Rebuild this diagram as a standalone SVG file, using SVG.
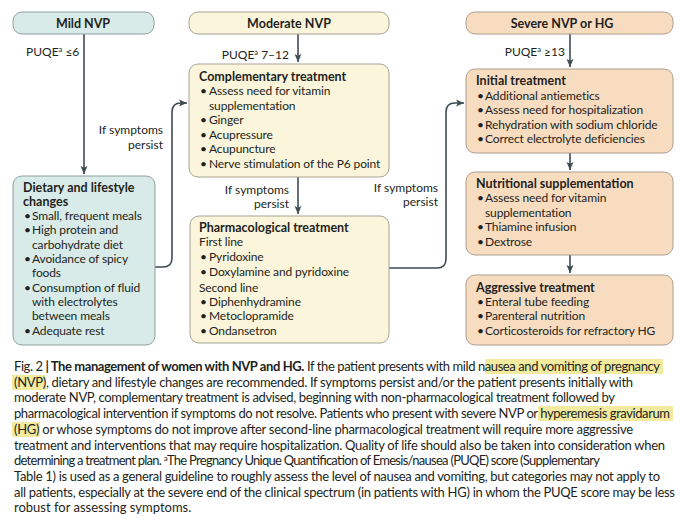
<svg xmlns="http://www.w3.org/2000/svg" width="680" height="521" viewBox="0 0 680 521">
<style>
text{font-family:Lato,"Liberation Sans",sans-serif;fill:#231f20}
.n{font-size:12px;letter-spacing:-0.12px}
.b{font-weight:bold;font-size:12.5px;letter-spacing:0}
.h{font-size:12.5px;font-weight:bold;text-anchor:middle}
.l{font-size:12px}
.e{text-anchor:end}
.c{font-size:13px}
.mild{fill:#d8ebe9;stroke:#8e9e9e;stroke-width:1}
.mod{fill:#fbf5dc;stroke:#a6a394;stroke-width:1}
.sev{fill:#f7dcc0;stroke:#ad9e8e;stroke-width:1}
.hl{fill:#f2ea9e}
.con{fill:none;stroke:#3f4b52;stroke-width:1.6}
</style>
<defs>
<marker id="ar" markerUnits="userSpaceOnUse" markerWidth="9" markerHeight="8" refX="8" refY="4" orient="auto">
<path d="M0,0.5 L8,4 L0,7.5 L1.8,4 z" fill="#3f4b52"/>
</marker>
</defs>
<rect width="680" height="521" fill="#ffffff"/>

<g id="connectors">
<path class="con" d="M84,34 V174" marker-end="url(#ar)"/>
<path class="con" d="M298,34 V62" marker-end="url(#ar)"/>
<path class="con" d="M570,34 V67" marker-end="url(#ar)"/>
<path class="con" d="M298,177 V214" marker-end="url(#ar)"/>
<path class="con" d="M570,153 V170" marker-end="url(#ar)"/>
<path class="con" d="M570,255 V273" marker-end="url(#ar)"/>
<path class="con" d="M155,267 H163 Q172,267 172,258 V112 Q172,103 181,103 H187" marker-end="url(#ar)"/>
<path class="con" d="M389,268 H437 Q446,268 446,259 V112 Q446,103 455,103 H464" marker-end="url(#ar)"/>
<text class="l" x="26" y="56">PUQE<tspan font-size="7.5" dy="-4">a</tspan><tspan dy="4"> ≤6</tspan></text>
<text class="l e" x="289" y="59">PUQE<tspan font-size="7.5" dy="-4">a</tspan><tspan dy="4"> 7–12</tspan></text>
<text class="l e" x="565" y="56">PUQE<tspan font-size="7.5" dy="-4">a</tspan><tspan dy="4"> ≥13</tspan></text>
<text class="l e" x="163" y="134">If symptoms</text>
<text class="l e" x="163" y="149">persist</text>
<text class="l e" x="289" y="194">If symptoms</text>
<text class="l e" x="289" y="208">persist</text>
<text class="l e" x="438" y="192">If symptoms</text>
<text class="l e" x="438" y="206">persist</text>
</g>

<g id="mild-header">
<rect class="mild" x="13" y="12" width="141" height="22" rx="9"/>
<text class="h" x="83" y="28">Mild NVP</text>
</g>
<g id="moderate-header">
<rect class="mod" x="189" y="12" width="200" height="22" rx="9"/>
<text class="h" x="289" y="28">Moderate NVP</text>
</g>
<g id="severe-header">
<rect class="sev" x="466" y="12" width="207" height="22" rx="9"/>
<text class="h" x="562" y="28">Severe NVP or HG</text>
</g>

<g id="dietary">
<rect class="mild" x="13" y="176" width="142" height="169" rx="9"/>
<text class="n b" x="23" y="192">Dietary and lifestyle</text>
<text class="n b" x="23" y="206">changes</text>
<g class="n">
<text x="24" y="220">•</text><text x="32" y="220">Small, frequent meals</text>
<text x="24" y="234">•</text><text x="32" y="234">High protein and</text>
<text x="32" y="249">carbohydrate diet</text>
<text x="24" y="263">•</text><text x="32" y="263">Avoidance of spicy</text>
<text x="32" y="277">foods</text>
<text x="24" y="292">•</text><text x="32" y="292">Consumption of fluid</text>
<text x="32" y="306">with electrolytes</text>
<text x="32" y="320">between meals</text>
<text x="24" y="335">•</text><text x="32" y="335">Adequate rest</text>
</g>
</g>

<g id="complementary">
<rect class="mod" x="189" y="64" width="200" height="113" rx="9"/>
<text class="n b" x="199" y="81">Complementary treatment</text>
<g class="n">
<text x="200" y="95">•</text><text x="209" y="95">Assess need for vitamin</text>
<text x="209" y="110">supplementation</text>
<text x="200" y="124">•</text><text x="209" y="124">Ginger</text>
<text x="200" y="139">•</text><text x="209" y="139">Acupressure</text>
<text x="200" y="153">•</text><text x="209" y="153">Acupuncture</text>
<text x="200" y="168">•</text><text x="209" y="168">Nerve stimulation of the P6 point</text>
</g>
</g>

<g id="pharmacological">
<rect class="mod" x="190" y="216" width="199" height="127" rx="9"/>
<text class="n b" x="199" y="232">Pharmacological treatment</text>
<g class="n">
<text x="199" y="246">First line</text>
<text x="200" y="261">•</text><text x="209" y="261">Pyridoxine</text>
<text x="200" y="276">•</text><text x="209" y="276">Doxylamine and pyridoxine</text>
<text x="199" y="292">Second line</text>
<text x="200" y="306">•</text><text x="209" y="306">Diphenhydramine</text>
<text x="200" y="320">•</text><text x="209" y="320">Metoclopramide</text>
<text x="200" y="335">•</text><text x="209" y="335">Ondansetron</text>
</g>
</g>

<g id="initial">
<rect class="sev" x="466" y="69" width="207" height="84" rx="9"/>
<text class="n b" x="476" y="85">Initial treatment</text>
<g class="n">
<text x="477" y="100">•</text><text x="485" y="100">Additional antiemetics</text>
<text x="477" y="114">•</text><text x="485" y="114">Assess need for hospitalization</text>
<text x="477" y="129">•</text><text x="485" y="129">Rehydration with sodium chloride</text>
<text x="477" y="143">•</text><text x="485" y="143">Correct electrolyte deficiencies</text>
</g>
</g>

<g id="nutritional">
<rect class="sev" x="466" y="172" width="207" height="83" rx="9"/>
<text class="n b" x="476" y="188">Nutritional supplementation</text>
<g class="n">
<text x="477" y="202">•</text><text x="485" y="202">Assess need for vitamin</text>
<text x="485" y="217">supplementation</text>
<text x="477" y="231">•</text><text x="485" y="231">Thiamine infusion</text>
<text x="477" y="246">•</text><text x="485" y="246">Dextrose</text>
</g>
</g>

<g id="aggressive">
<rect class="sev" x="466" y="275" width="207" height="70" rx="9"/>
<text class="n b" x="476" y="292">Aggressive treatment</text>
<g class="n">
<text x="477" y="306">•</text><text x="485" y="306">Enteral tube feeding</text>
<text x="477" y="320">•</text><text x="485" y="320">Parenteral nutrition</text>
<text x="477" y="335">•</text><text x="485" y="335">Corticosteroids for refractory HG</text>
</g>
</g>

<g id="caption">
<rect class="hl" x="485" y="359" width="178" height="15"/>
<rect class="hl" x="12" y="375" width="34" height="15"/>
<rect class="hl" x="538" y="406" width="135" height="15"/>
<rect class="hl" x="12" y="422" width="28" height="15"/>
<text class="c" x="14" y="371" textLength="646" lengthAdjust="spacing">Fig. 2<tspan font-weight="bold"> | The management of women with NVP and HG.</tspan> If the patient presents with mild nausea and vomiting of pregnancy</text>
<text class="c" x="14" y="387" textLength="619" lengthAdjust="spacing">(NVP), dietary and lifestyle changes are recommended. If symptoms persist and/or the patient presents initially with</text>
<text class="c" x="14" y="402" textLength="601" lengthAdjust="spacing">moderate NVP, complementary treatment is advised, beginning with non-pharmacological treatment followed by</text>
<text class="c" x="14" y="418" textLength="656" lengthAdjust="spacing">pharmacological intervention if symptoms do not resolve. Patients who present with severe NVP or hyperemesis gravidarum</text>
<text class="c" x="14" y="434" textLength="619" lengthAdjust="spacing">(HG) or whose symptoms do not improve after second-line pharmacological treatment will require more aggressive</text>
<text class="c" x="14" y="450" textLength="651" lengthAdjust="spacing">treatment and interventions that may require hospitalization. Quality of life should also be taken into consideration when</text>
<text class="c" x="14" y="465" textLength="586" lengthAdjust="spacing">determining a treatment plan. <tspan font-size="8" dy="-4">a</tspan><tspan dy="4">The Pregnancy Unique Quantification of Emesis/nausea (PUQE) score (Supplementary</tspan></text>
<text class="c" x="14" y="481" textLength="646" lengthAdjust="spacing">Table 1) is used as a general guideline to roughly assess the level of nausea and vomiting, but categories may not apply to</text>
<text class="c" x="14" y="497" textLength="661" lengthAdjust="spacing">all patients, especially at the severe end of the clinical spectrum (in patients with HG) in whom the PUQE score may be less</text>
<text class="c" x="14" y="512">robust for assessing symptoms.</text>
</g>
</svg>
